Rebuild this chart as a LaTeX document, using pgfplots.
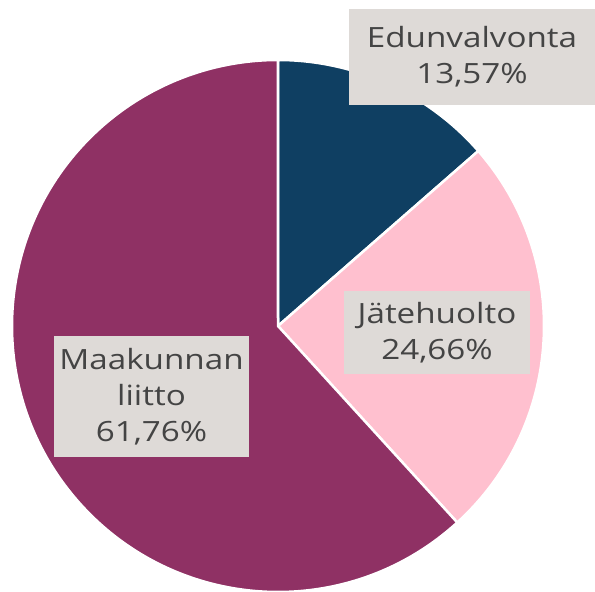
\documentclass[border=0pt]{standalone}
\usepackage{pgfplots}
\usepackage{pgfplotstable}
\pgfplotsset{compat=1.18}
\usepackage{fontspec}
\setmainfont{Open Sans}[FakeStretch=1.19]
\definecolor{cnavy}{HTML}{0F3F62}
\definecolor{cpink}{HTML}{FFC0CF}
\definecolor{cpurple}{HTML}{8F3164}
\definecolor{cbox}{HTML}{DEDAD7}
\definecolor{ctext}{HTML}{444444}
\pgfplotstableread{
label value
Edunvalvonta 13.57
Jatehuolto 24.66
Maakunnan 61.76
}\piedata
\begin{document}
\begin{tikzpicture}
\pgfplotstablegetelem{0}{value}\of\piedata \let\va\pgfplotsretval
\pgfplotstablegetelem{1}{value}\of\piedata \let\vb\pgfplotsretval
\pgfplotstablegetelem{2}{value}\of\piedata \let\vc\pgfplotsretval
\pgfmathsetmacro{\aA}{90}
\pgfmathsetmacro{\aB}{90-3.6*\va}
\pgfmathsetmacro{\aC}{\aB-3.6*\vb}
\pgfmathsetmacro{\aD}{\aC-3.6*\vc}
\begin{axis}[
  x=1bp, y=1bp, scale only axis,
  xmin=0, xmax=595, ymin=0, ymax=592,
  hide axis, clip=false,
]
\def\cx{278}\def\cy{266}\def\R{266}
\fill[cnavy, draw=white, line width=2.5bp] (axis cs:\cx,\cy) -- (axis cs:{\cx+\R*cos(\aA)},{\cy+\R*sin(\aA)}) arc[start angle=\aA, end angle=\aB, radius=\R bp] -- cycle;
\fill[cpink, draw=white, line width=2.5bp] (axis cs:\cx,\cy) -- (axis cs:{\cx+\R*cos(\aB)},{\cy+\R*sin(\aB)}) arc[start angle=\aB, end angle=\aC, radius=\R bp] -- cycle;
\fill[cpurple, draw=white, line width=2.5bp] (axis cs:\cx,\cy) -- (axis cs:{\cx+\R*cos(\aC)},{\cy+\R*sin(\aC)}) arc[start angle=\aC, end angle=\aD, radius=\R bp] -- cycle;
\tikzset{lbl/.style={fill=cbox, text=ctext, align=center, inner sep=0pt, font=\fontsize{28}{36}\selectfont}}
\node[lbl, minimum width=246bp, minimum height=96bp] at (axis cs:472,535) {Edunvalvonta\\13,57\%};
\node[lbl, minimum width=186bp, minimum height=83bp] at (axis cs:437,259.5) {Jätehuolto\\24,66\%};
\node[lbl, minimum width=195bp, minimum height=121bp] at (axis cs:151.5,195.5) {Maakunnan\\liitto\\61,76\%};
\coordinate (ll) at (axis cs:0,0);
\coordinate (ur) at (axis cs:595,592);
\end{axis}
\pgfresetboundingbox
\path[use as bounding box] (ll) rectangle (ur);
\end{tikzpicture}
\end{document}
